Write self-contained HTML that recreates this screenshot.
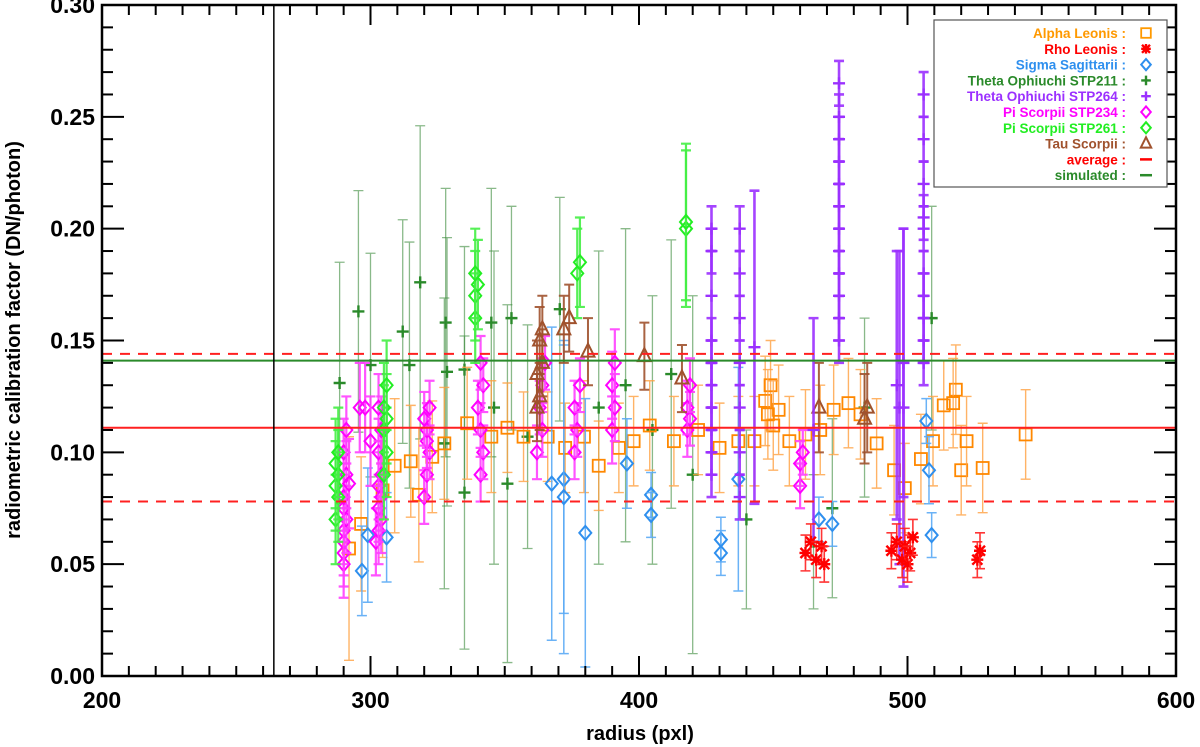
<!DOCTYPE html>
<html><head><meta charset="utf-8"><style>
body{margin:0;background:#fff;}
svg{display:block;font-family:"Liberation Sans",sans-serif;font-weight:bold;}
</style></head><body>
<svg id="chart" width="1200" height="747" viewBox="0 0 1200 747">
<g id="marks"></g>
<g id="axes"></g>
<text x="640" y="740" text-anchor="middle" font-size="20">radius (pxl)</text>
<text transform="translate(20,340) rotate(-90)" text-anchor="middle" font-size="20">radiometric calibration factor (DN/photon)</text>
<g id="legend"></g>
</svg>
<script>
const xTicks=[200,300,400,500,600];
const yTicks=[0.00,0.05,0.10,0.15,0.20,0.25,0.30];
const avgValue=0.111, avgUpper=0.144, avgLower=0.078, simValue=0.141, cutRadius=264;
// [radius, factor, error]
const stp211=[[288.5,0.131,0.054],[295.5,0.163,0.054],[300,0.139,0.05],[312,0.154,0.05],[314.5,0.139,0.055],[318.5,0.176,0.07],[328,0.158,0.06],[328.5,0.136,0.06],[327.5,0.104,0.065],[335,0.137,0.055],[335,0.082,0.07],[345,0.158,0.06],[346,0.12,0.07],[352.5,0.16,0.05],[358.5,0.107,0.05],[351,0.086,0.08],[370.5,0.164,0.05],[385,0.12,0.07],[395,0.13,0.07],[405,0.11,0.06],[412,0.135,0.06],[420,0.09,0.08],[440,0.07,0.04],[465,0.06,0.03],[472,0.075,0.04],[509,0.16,0.05],[484,0.12,0.04]];
const alpha=[[292,0.057,0.05],[296.5,0.068,0.03],[304.5,0.083,0.03],[309,0.094,0.03],[315,0.096,0.025],[318,0.081,0.03],[323,0.098,0.025],[327.5,0.104,0.025],[336,0.113,0.025],[345,0.107,0.025],[351,0.111,0.02],[357,0.107,0.02],[366,0.107,0.02],[372.5,0.102,0.02],[379.5,0.107,0.025],[385,0.094,0.02],[392.5,0.102,0.02],[398,0.105,0.02],[404,0.112,0.02],[413,0.105,0.02],[422,0.11,0.02],[430,0.102,0.02],[437,0.105,0.02],[443,0.105,0.02],[447,0.123,0.02],[449,0.13,0.02],[452,0.119,0.02],[450,0.112,0.02],[448,0.117,0.02],[456,0.105,0.02],[462,0.108,0.02],[467.5,0.11,0.02],[472.5,0.119,0.02],[478,0.122,0.02],[482.5,0.117,0.02],[488.5,0.104,0.02],[495,0.092,0.02],[499,0.084,0.02],[505,0.097,0.02],[509.5,0.105,0.02],[513.5,0.121,0.02],[518,0.128,0.02],[517,0.122,0.02],[520,0.092,0.02],[522,0.105,0.02],[528,0.093,0.02],[544,0.108,0.02]];
const sigma=[[296.8,0.047,0.02],[299,0.063,0.03],[306,0.062,0.02],[367.5,0.086,0.07],[372,0.088,0.06],[372,0.08,0.07],[380,0.064,0.06],[395.5,0.095,0.02],[404.5,0.081,0.01],[404.5,0.072,0.01],[430.5,0.061,0.01],[430.5,0.055,0.01],[437,0.088,0.05],[467,0.07,0.01],[472,0.068,0.01],[507,0.114,0.01],[508,0.092,0.015],[509,0.063,0.01]];
const stp234=[[290,0.05,0.015],[290,0.055,0.015],[290,0.06,0.015],[290,0.065,0.015],[291,0.07,0.015],[290,0.075,0.015],[290,0.08,0.015],[291,0.09,0.015],[290,0.1,0.015],[291,0.11,0.015],[292,0.086,0.02],[296,0.12,0.02],[298,0.12,0.02],[300,0.105,0.02],[302,0.06,0.015],[303,0.065,0.015],[304,0.07,0.015],[303,0.075,0.015],[304,0.08,0.015],[303,0.085,0.015],[304,0.09,0.015],[303,0.1,0.015],[304,0.11,0.015],[303,0.12,0.015],[320,0.08,0.012],[321,0.09,0.012],[322,0.1,0.012],[321,0.105,0.012],[321,0.11,0.012],[320,0.115,0.012],[322,0.12,0.012],[341,0.09,0.012],[342,0.1,0.012],[341,0.11,0.012],[340,0.12,0.012],[342,0.13,0.012],[341,0.14,0.012],[362,0.1,0.012],[364,0.11,0.012],[363,0.12,0.012],[364,0.13,0.012],[365,0.14,0.012],[376,0.1,0.012],[377,0.11,0.012],[376,0.12,0.012],[378,0.13,0.012],[390,0.11,0.015],[391,0.12,0.015],[390,0.13,0.015],[391,0.14,0.015],[418,0.11,0.012],[419,0.115,0.012],[418,0.12,0.012],[419,0.13,0.012],[460,0.085,0.01],[460,0.095,0.01],[461,0.1,0.01]];
const stp261=[[287,0.07,0.02],[288,0.08,0.02],[287,0.085,0.02],[288,0.09,0.02],[287,0.095,0.02],[288,0.1,0.02],[305,0.09,0.02],[306,0.1,0.02],[305,0.11,0.02],[306,0.115,0.02],[305,0.12,0.02],[306,0.13,0.02],[339,0.16,0.02],[339,0.17,0.02],[340,0.175,0.02],[339,0.18,0.02],[377,0.18,0.02],[378,0.185,0.02],[417.5,0.2,0.035],[417.5,0.203,0.035]];
const tau=[[362,0.12,0.015],[363,0.125,0.015],[362,0.135,0.015],[364,0.14,0.015],[363,0.15,0.015],[364,0.155,0.015],[372,0.155,0.015],[374,0.16,0.015],[381,0.145,0.015],[402,0.143,0.015],[416,0.133,0.015],[467,0.12,0.02],[484,0.115,0.02],[485,0.12,0.02]];
const stp264=[[427,0.09,0.01],[427,0.1,0.01],[427,0.11,0.01],[427,0.12,0.01],[427,0.13,0.01],[427,0.14,0.01],[427,0.15,0.01],[427,0.17,0.02],[427,0.19,0.01],[427,0.2,0.01],[437.5,0.08,0.01],[437.5,0.1,0.01],[437.5,0.12,0.01],[437.5,0.14,0.01],[437.5,0.16,0.01],[437.5,0.18,0.01],[437.5,0.2,0.01],[443,0.147,0.07],[465,0.11,0.05],[474.5,0.15,0.01],[474.5,0.16,0.01],[474.5,0.17,0.01],[474.5,0.18,0.01],[474.5,0.19,0.01],[474.5,0.2,0.01],[474.5,0.21,0.01],[474.5,0.22,0.01],[474.5,0.23,0.01],[474.5,0.24,0.01],[474.5,0.25,0.01],[474.5,0.265,0.01],[496,0.13,0.06],[497,0.12,0.07],[498.5,0.14,0.06],[498.5,0.12,0.08],[506,0.14,0.01],[506,0.15,0.01],[506,0.16,0.01],[506,0.17,0.01],[506,0.18,0.01],[506,0.2,0.01],[506,0.205,0.01],[506,0.22,0.01],[506,0.24,0.01],[506,0.26,0.01]];
const rho=[[462,0.055,0.008],[464,0.06,0.008],[466,0.052,0.008],[468,0.058,0.008],[469,0.05,0.008],[494,0.056,0.008],[496,0.06,0.008],[498,0.052,0.008],[499,0.058,0.008],[500,0.05,0.008],[501,0.055,0.008],[502,0.062,0.008],[526,0.052,0.008],[527,0.056,0.008]];
const legendLabels=["Alpha Leonis :","Rho Leonis :","Sigma Sagittarii :","Theta Ophiuchi STP211 :","Theta Ophiuchi STP264 :","Pi Scorpii STP234 :","Pi Scorpii STP261 :","Tau Scorpii :","average :","simulated :"];

const L=102,R=1176,T=5,B=676;
const X=v=>L+(v-200)*(R-L)/400;
const Y=v=>B-v*(B-T)/0.30;
const NS="http://www.w3.org/2000/svg";
function mk(tag,attrs,parent){const e=document.createElementNS(NS,tag);for(const k in attrs)e.setAttribute(k,attrs[k]);parent.appendChild(e);return e;}
const marks=document.getElementById('marks'),axes=document.getElementById('axes'),leg=document.getElementById('legend');

function marker(g,type,cx,cy,col,s){
  s=s||1;let e;
  if(type==='sq'){e=mk('rect',{x:cx-6*s,y:cy-6*s,width:12*s,height:12*s,fill:'none',stroke:col,'stroke-width':1.8},g);}
  else if(type==='di'){e=mk('path',{d:`M${cx},${cy-7*s}L${cx+6*s},${cy}L${cx},${cy+7*s}L${cx-6*s},${cy}Z`,fill:'none',stroke:col,'stroke-width':2},g);}
  else if(type==='pl'){e=mk('path',{d:`M${cx-6*s},${cy}H${cx+6*s}M${cx},${cy-6*s}V${cy+6*s}`,stroke:col,'stroke-width':2.4},g);}
  else if(type==='tr'){e=mk('path',{d:`M${cx},${cy-8*s}L${cx+6.5*s},${cy+5*s}L${cx-6.5*s},${cy+5*s}Z`,fill:'none',stroke:col,'stroke-width':2},g);}
  else {e=mk('path',{d:`M${cx-6*s},${cy}H${cx+6*s}M${cx},${cy-6*s}V${cy+6*s}M${cx-5*s},${cy-5*s}L${cx+5*s},${cy+5*s}M${cx-5*s},${cy+5*s}L${cx+5*s},${cy-5*s}`,stroke:col,'stroke-width':2.4},g);}
  return e;
}
function series(data,name,type,col,barCol,op,bw){
  const g=mk('g',{},marks);
  
  
  data.forEach(d=>{
    const cx=X(d[0]),cy=Y(d[1]),y1=Y(Math.max(0,d[1]-d[2])),y2=Y(d[1]+d[2]);
    const b=mk('path',{d:`M${cx},${y1}V${y2}M${cx-5},${y1}H${cx+5}M${cx-5},${y2}H${cx+5}`,stroke:barCol,'stroke-width':bw,opacity:op,fill:'none'},g);
    
    
    const m=marker(g,type,cx,cy,col);
    
    
  });
}
series(stp211,'theta-ophiuchi-stp211','pl','#2a8a2a','#3a8a3a',0.6,1.3);
series(alpha,'alpha-leonis','sq','#ff8800','#ffa040',0.8,1.4);
series(sigma,'sigma-sagittarii','di','#2e8fee','#5aaaf5',0.9,1.5);
series(stp234,'pi-scorpii-stp234','di','#ff00ff','#ff40ff',0.9,2.2);
series(stp261,'pi-scorpii-stp261','di','#22ee22','#44ee44',0.9,2.2);
series(tau,'tau-scorpii','tr','#a0522d','#a0522d',0.9,2);
series(stp264,'theta-ophiuchi-stp264','pl','#9b30ff','#9b30ff',0.9,2.6);
series(rho,'rho-leonis','as','#ff0000','#ff2020',0.9,1.6);

function hline(v,col,dash,name){const l=mk('line',{x1:L,x2:R,y1:Y(v),y2:Y(v),stroke:col,'stroke-width':2,'stroke-dasharray':dash},marks);
  }
hline(avgUpper,'#ff2020','10,8','average-upper-line');
hline(avgLower,'#ff2020','10,8','average-lower-line');
hline(simValue,'#2a8a2a','none','simulated-line');
hline(avgValue,'#ff2020','none','average-line');
const vl=mk('line',{x1:X(cutRadius),x2:X(cutRadius),y1:T,y2:B,stroke:'#000','stroke-width':1.5},marks);


const box=mk('rect',{x:L,y:T,width:R-L,height:B-T,fill:'none',stroke:'#000','stroke-width':2.5},axes);

for(let v=200;v<=600;v+=10){const maj=v%100===0,len=maj?20:10,x=X(v);
  mk('line',{x1:x,x2:x,y1:B,y2:B-len,stroke:'#000','stroke-width':2},axes);
  mk('line',{x1:x,x2:x,y1:T,y2:T+len,stroke:'#000','stroke-width':2},axes);}
for(let i=0;i<=30;i++){const v=i/100,maj=i%5===0,len=maj?22:11,y=Y(v);
  mk('line',{x1:L,x2:L+len,y1:y,y2:y,stroke:'#000','stroke-width':2},axes);
  mk('line',{x1:R,x2:R-len,y1:y,y2:y,stroke:'#000','stroke-width':2},axes);}
xTicks.forEach(v=>{const t=mk('text',{x:X(v),y:B+32,'text-anchor':'middle','font-size':23},axes);t.textContent=v;
  });
yTicks.forEach(v=>{const t=mk('text',{x:L-7,y:Y(v)+8,'text-anchor':'end','font-size':23},axes);t.textContent=v.toFixed(2);
  });

const lb=mk('rect',{x:934,y:20,width:233,height:167,fill:'#fff',stroke:'#555','stroke-width':1.2},leg);

const lcols=['#ff9900','#ff0000','#2e8fee','#2a8a2a','#9b30ff','#ff00ff','#22ee22','#a0522d','#ff0000','#2a8a2a'];
const ltypes=['sq','as','di','pl','pl','di','di','tr','ln','ln'];
legendLabels.forEach((s,i)=>{const y=33+i*15.8;
  const g=mk('g',{},leg);
  
  
  const t=mk('text',{x:1126,y:y+5,'text-anchor':'end','font-size':13.5,fill:lcols[i]},g);t.textContent=s;
  if(ltypes[i]==='ln')mk('line',{x1:1140,x2:1152,y1:y,y2:y,stroke:lcols[i],'stroke-width':2.5},g);
  else marker(g,ltypes[i],1146,y,lcols[i],0.8);
});
</script>
</body></html>
